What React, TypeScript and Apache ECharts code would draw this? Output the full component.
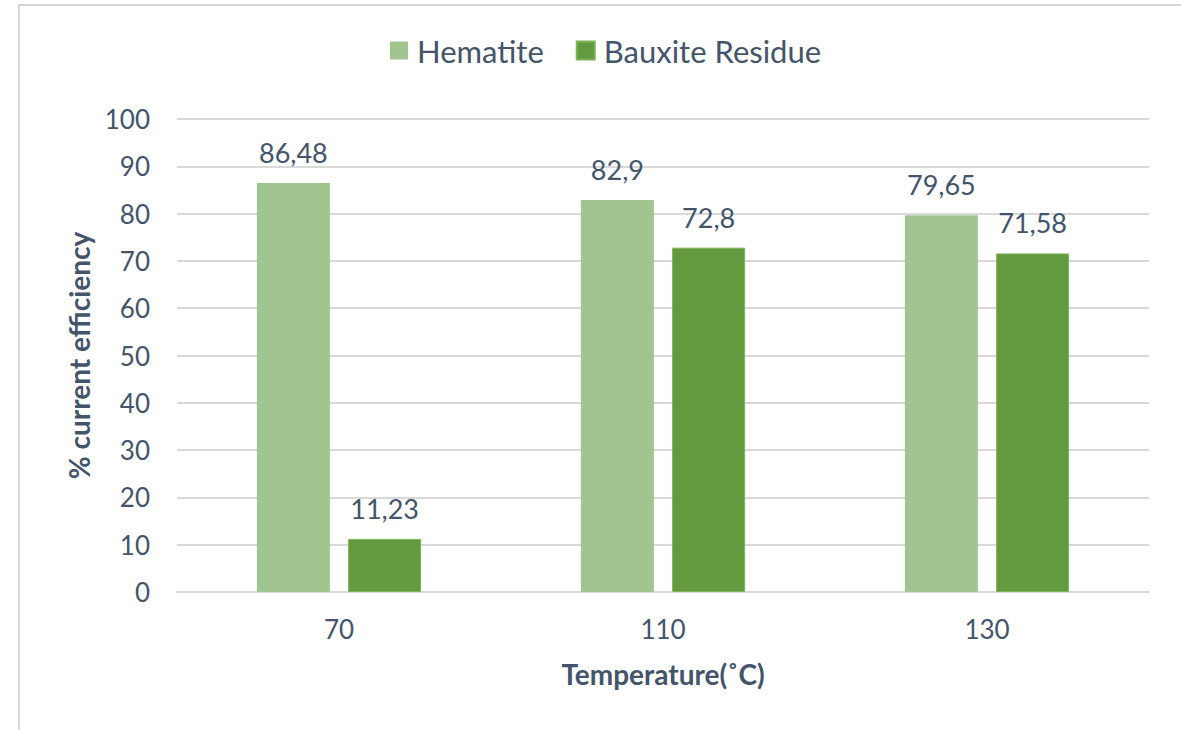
import React, { useEffect, useRef } from "react";
import * as echarts from "echarts";

const temperatures = ["70", "110", "130"];
const hematite = [86.48, 82.9, 79.65];
const bauxiteResidue = [11.23, 72.8, 71.58];
const seriesNames = ["Hematite", "Bauxite Residue"];

const TEXT = "#44546A";
const FONT = "Lato, 'Open Sans', sans-serif";

const commaDecimal = (v: number) => String(v).replace(".", ",");

export default function App() {
  const ref = useRef<HTMLDivElement>(null);

  useEffect(() => {
    document.body.style.margin = "0";
    const chart = echarts.init(ref.current!, undefined, { renderer: "svg" });
    const label = {
      show: true,
      position: "top" as const,
      distance: 17,
      color: TEXT,
      fontSize: 27,
      fontFamily: FONT,
      formatter: (p: any) => commaDecimal(p.value),
    };
    chart.setOption({
      animation: false,
      backgroundColor: "#ffffff",
      textStyle: { fontFamily: FONT },
      graphic: [
        {
          type: "rect",
          shape: { x: 19, y: 5, width: 1200, height: 800 },
          style: { fill: "none", stroke: "#D6D6D6", lineWidth: 2 },
          silent: true,
        },
      ],
      legend: {
        top: 30,
        left: 385,
        itemWidth: 18,
        itemHeight: 18,
        itemGap: 32,
        icon: "rect",
        textStyle: { color: TEXT, fontSize: 31, fontFamily: FONT, padding: [0, 0, 0, 4] },
        data: seriesNames,
      },
      grid: { left: 177, right: 32, top: 119, bottom: 138 },
      xAxis: {
        type: "category",
        data: temperatures,
        name: "Temperature(˚C)",
        nameLocation: "middle",
        nameGap: 68,
        nameTextStyle: { color: TEXT, fontSize: 28, fontWeight: "bold", fontFamily: FONT },
        axisLine: { lineStyle: { color: "#D9D9D9", width: 2 } },
        axisTick: { show: false },
        axisLabel: { color: TEXT, fontSize: 26, margin: 24, fontFamily: FONT },
      },
      yAxis: {
        type: "value",
        min: 0,
        max: 100,
        interval: 10,
        name: "% current efficiency",
        nameLocation: "middle",
        nameGap: 84,
        nameTextStyle: { color: TEXT, fontSize: 28, fontWeight: "bold", fontFamily: FONT },
        axisLabel: { color: TEXT, fontSize: 26, margin: 27, fontFamily: FONT },
        splitLine: { lineStyle: { color: "#D9D9D9", width: 2 } },
        axisLine: { show: false },
        axisTick: { show: false },
      },
      series: [
        {
          name: seriesNames[0],
          type: "bar",
          data: hematite,
          barWidth: 73,
          barGap: "25%",
          itemStyle: { color: "#A1C490" },
          label,
        },
        {
          name: seriesNames[1],
          type: "bar",
          data: bauxiteResidue,
          barWidth: 73,
          itemStyle: { color: "#629A3D", borderColor: "#7DB35A", borderWidth: 1 },
          label,
        },
      ],
    });
    return () => chart.dispose();
  }, []);

  return <div ref={ref} style={{ width: 1181, height: 730 }} />;
}
